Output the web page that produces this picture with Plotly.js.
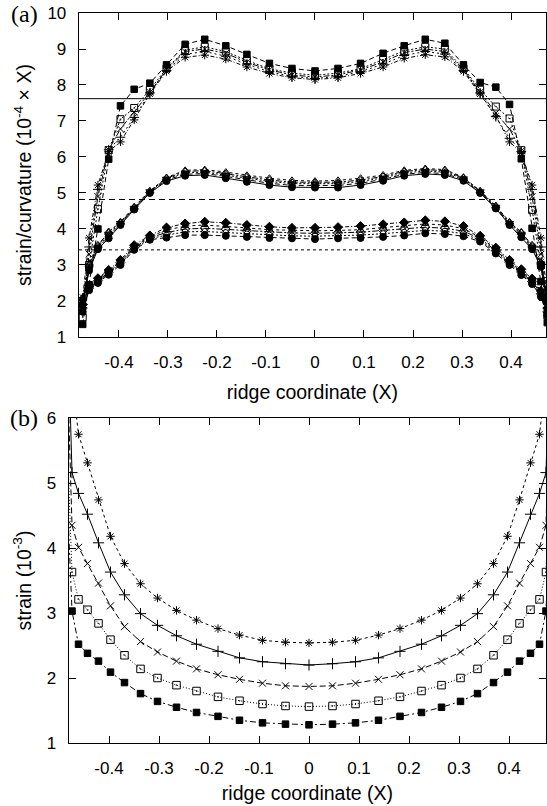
<!DOCTYPE html>
<html>
<head>
<meta charset="utf-8">
<script src="https://cdn.plot.ly/plotly-3.0.1.min.js"></script>
<style>html,body{margin:0;padding:0;background:#fff;}#chart{width:547px;height:806px;}</style>
</head>
<body>
<div id="chart"></div>
<script>
// ---------- DATA ----------
const xTickVals = [-0.4, -0.3, -0.2, -0.1, 0, 0.1, 0.2, 0.3, 0.4];
const xTickText = ["-0.4", "-0.3", "-0.2", "-0.1", "0", "0.1", "0.2", "0.3", "0.4"];
const yTicksA = [1, 2, 3, 4, 5, 6, 7, 8, 9, 10];
const yTicksB = [1, 2, 3, 4, 5, 6];

// ridge nodes (panel a)
const xNodesA = [-0.474, -0.461, -0.443, -0.421, -0.397, -0.369, -0.337, -0.303, -0.265, -0.225, -0.182, -0.139, -0.093, -0.047, 0,
                 0.047, 0.093, 0.139, 0.182, 0.225, 0.265, 0.303, 0.337, 0.369, 0.397, 0.421, 0.443, 0.461, 0.474];
// ridge nodes (panel b) incl. end nodes
const xNodesB = [-0.49, -0.474, -0.461, -0.443, -0.421, -0.397, -0.369, -0.337, -0.303, -0.265, -0.225, -0.182, -0.139, -0.093, -0.047, 0,
                 0.047, 0.093, 0.139, 0.182, 0.225, 0.265, 0.303, 0.337, 0.369, 0.397, 0.421, 0.443, 0.461, 0.474, 0.49];

// panel (a) reference levels
const refLevelsA = [7.62, 4.82, 3.42];

// panel (a) upper group
const aTopSq   = [1.35, 2.45, 4.0, 5.94, 7.42, 7.88, 8.05, 8.56, 9.13, 9.27, 9.09, 8.85, 8.60, 8.46, 8.39, 8.46, 8.60, 8.88, 9.09, 9.27, 9.16, 8.56, 8.07, 7.94, 7.46, 5.95, 4.02, 2.54, 1.4];
const aTopSqO  = [1.55, 3.0, 4.55, 6.19, 7.05, 7.36, 7.87, 8.46, 8.97, 9.06, 8.93, 8.68, 8.45, 8.33, 8.27, 8.33, 8.45, 8.70, 8.95, 9.06, 9.0, 8.46, 7.87, 7.40, 7.07, 6.19, 4.53, 3.0, 1.6];
const aTopX    = [1.7, 3.3, 4.9, 6.2, 6.78, 7.25, 7.8, 8.43, 8.93, 9.0, 8.88, 8.63, 8.42, 8.28, 8.22, 8.28, 8.42, 8.64, 8.9, 9.0, 8.93, 8.43, 7.8, 7.22, 6.78, 6.17, 4.9, 3.3, 1.75];
const aTopPlus = [1.9, 3.5, 5.1, 6.2, 6.55, 7.1, 7.78, 8.4, 8.85, 8.93, 8.8, 8.58, 8.37, 8.24, 8.18, 8.24, 8.37, 8.58, 8.82, 8.93, 8.86, 8.4, 7.78, 7.12, 6.52, 6.15, 5.1, 3.5, 1.95];
const aTopStar = [2.1, 3.75, 5.22, 6.15, 6.42, 7.03, 7.75, 8.38, 8.77, 8.83, 8.72, 8.5, 8.32, 8.2, 8.15, 8.2, 8.32, 8.5, 8.74, 8.84, 8.78, 8.38, 7.75, 7.14, 6.42, 6.12, 5.22, 3.75, 2.15];

// panel (a) middle group
const aMid1 = [1.9, 2.85, 3.44, 3.74, 4.11, 4.54, 5.0, 5.33, 5.48, 5.5, 5.41, 5.31, 5.22, 5.16, 5.15, 5.15, 5.22, 5.34, 5.48, 5.53, 5.5, 5.34, 5.0, 4.57, 4.11, 3.77, 3.44, 2.95, 1.95];
const aMid2 = [1.95, 2.9, 3.47, 3.8, 4.14, 4.56, 5.02, 5.36, 5.52, 5.54, 5.46, 5.36, 5.27, 5.21, 5.2, 5.21, 5.27, 5.38, 5.52, 5.57, 5.54, 5.37, 5.02, 4.59, 4.14, 3.81, 3.47, 2.98, 2.0];
const aMid3 = [2.0, 2.95, 3.5, 3.86, 4.16, 4.58, 5.04, 5.39, 5.56, 5.58, 5.5, 5.4, 5.32, 5.26, 5.25, 5.26, 5.32, 5.42, 5.56, 5.61, 5.58, 5.4, 5.04, 4.61, 4.16, 3.86, 3.5, 3.02, 2.05];
const aMid4 = [2.05, 3.0, 3.53, 3.93, 4.18, 4.6, 5.05, 5.41, 5.6, 5.62, 5.54, 5.45, 5.36, 5.3, 5.29, 5.3, 5.36, 5.46, 5.6, 5.65, 5.62, 5.42, 5.05, 4.63, 4.18, 3.92, 3.53, 3.05, 2.1];
const aMid5 = [2.1, 3.05, 3.56, 3.9, 4.2, 4.62, 5.06, 5.43, 5.63, 5.65, 5.58, 5.49, 5.41, 5.35, 5.33, 5.35, 5.41, 5.5, 5.63, 5.68, 5.65, 5.44, 5.06, 4.65, 4.2, 3.9, 3.56, 3.08, 2.15];

// panel (a) lower group
const aLow1 = [1.7, 2.3, 2.5, 2.73, 3.0, 3.42, 3.7, 3.76, 3.83, 3.83, 3.81, 3.78, 3.75, 3.74, 3.72, 3.74, 3.75, 3.78, 3.82, 3.88, 3.86, 3.8, 3.65, 3.32, 3.0, 2.72, 2.47, 2.12, 1.6];
const aLow2 = [1.75, 2.33, 2.53, 2.77, 3.04, 3.45, 3.73, 3.83, 3.92, 3.93, 3.9, 3.86, 3.83, 3.81, 3.8, 3.81, 3.83, 3.87, 3.91, 3.96, 3.94, 3.87, 3.69, 3.36, 3.04, 2.76, 2.5, 2.16, 1.65];
const aLow3 = [1.8, 2.36, 2.56, 2.8, 3.07, 3.48, 3.76, 3.9, 4.0, 4.02, 3.99, 3.95, 3.91, 3.89, 3.88, 3.89, 3.91, 3.96, 4.0, 4.05, 4.02, 3.94, 3.73, 3.4, 3.07, 2.8, 2.54, 2.2, 1.7];
const aLow4 = [1.85, 2.4, 2.6, 2.83, 3.1, 3.51, 3.79, 3.97, 4.08, 4.11, 4.08, 4.03, 3.98, 3.96, 3.95, 3.96, 3.98, 4.04, 4.09, 4.14, 4.11, 4.01, 3.77, 3.44, 3.1, 2.84, 2.58, 2.24, 1.75];
const aLow5 = [1.9, 2.43, 2.63, 2.86, 3.14, 3.55, 3.82, 4.04, 4.15, 4.2, 4.17, 4.11, 4.06, 4.03, 4.03, 4.05, 4.08, 4.13, 4.18, 4.24, 4.21, 4.08, 3.81, 3.48, 3.14, 2.88, 2.62, 2.28, 1.8];

// panel (b) strain (10^-3)
const bSq   = [6.0, 3.03, 2.52, 2.38, 2.26, 2.09, 1.93, 1.76, 1.64, 1.55, 1.47, 1.41, 1.35, 1.31, 1.29, 1.28, 1.29, 1.31, 1.35, 1.41, 1.47, 1.55, 1.64, 1.76, 1.93, 2.09, 2.26, 2.38, 2.52, 3.03, 6.0];
const bSqO  = [7.0, 3.63, 3.21, 3.05, 2.84, 2.59, 2.35, 2.14, 2.00, 1.89, 1.80, 1.71, 1.65, 1.60, 1.57, 1.56, 1.57, 1.60, 1.65, 1.71, 1.80, 1.89, 2.00, 2.14, 2.35, 2.59, 2.84, 3.05, 3.21, 3.63, 7.0];
const bX    = [8.5, 4.35, 4.01, 3.76, 3.46, 3.11, 2.79, 2.56, 2.40, 2.26, 2.14, 2.05, 1.98, 1.92, 1.88, 1.87, 1.88, 1.92, 1.98, 2.05, 2.14, 2.26, 2.40, 2.56, 2.79, 3.11, 3.46, 3.76, 4.01, 4.35, 8.5];
const bPlus = [9.5, 5.16, 4.84, 4.52, 4.08, 3.63, 3.28, 2.99, 2.81, 2.65, 2.52, 2.41, 2.31, 2.25, 2.22, 2.20, 2.22, 2.25, 2.31, 2.41, 2.52, 2.65, 2.81, 2.99, 3.28, 3.63, 4.08, 4.52, 4.84, 5.16, 9.5];
const bStar = [11.0, 6.6, 5.75, 5.31, 4.74, 4.18, 3.76, 3.45, 3.23, 3.04, 2.89, 2.76, 2.66, 2.58, 2.55, 2.54, 2.55, 2.58, 2.66, 2.76, 2.89, 3.04, 3.23, 3.45, 3.76, 4.18, 4.74, 5.31, 5.75, 6.6, 11.0];

// ---------- TRACES ----------
function tr(x, y, sym, size, dash, axes, lw) {
  return {
    x: x, y: y, type: 'scatter', mode: 'lines+markers',
    xaxis: axes[0], yaxis: axes[1], showlegend: false, hoverinfo: 'skip',
    line: {color: '#000', width: lw || 1, dash: dash},
    marker: {symbol: sym, size: size, color: '#000', line: {color: '#000', width: 1}}
  };
}
const A = ['x', 'y'], B = ['x2', 'y2'];
const traces = [
  tr(xNodesA, aTopSq,   'square', 6.5, '5px,3px', A),
  tr(xNodesA, aTopSqO,  'square-open-dot', 7, '2px,2px', A),
  tr(xNodesA, aTopX,    'x-thin-open', 7, '6px,2px,2px,2px', A),
  tr(xNodesA, aTopPlus, 'cross-thin-open', 7, '2px,3px', A),
  tr(xNodesA, aTopStar, 'asterisk-open', 7, '4px,2px,1px,2px', A),

  tr(xNodesA, aMid1, 'circle', 7, 'solid', A),
  tr(xNodesA, aMid2, 'circle-open', 6, '5px,3px', A),
  tr(xNodesA, aMid3, 'triangle-down-open', 7, '2px,2px', A),
  tr(xNodesA, aMid4, 'triangle-up-open', 7, '6px,2px,2px,2px', A),
  tr(xNodesA, aMid5, 'triangle-up-open', 7, '3px,3px', A),

  tr(xNodesA, aLow1, 'circle', 7, '5px,3px', A),
  tr(xNodesA, aLow2, 'circle-open', 6, '2px,2px', A),
  tr(xNodesA, aLow3, 'diamond-open', 7, '6px,2px,2px,2px', A),
  tr(xNodesA, aLow4, 'triangle-up-open', 6, '3px,3px', A),
  tr(xNodesA, aLow5, 'diamond', 7, '4px,2px,1px,2px', A),

  tr(xNodesB, bSq,   'square', 6.5, '6px,3px,2px,3px', B),
  tr(xNodesB, bSqO,  'square-open-dot', 7.5, '1px,2px', B),
  tr(xNodesB, bX,    'x-thin-open', 7, '6px,3px', B),
  tr(xNodesB, bPlus, 'cross-thin-open', 8, 'solid', B),
  tr(xNodesB, bStar, 'asterisk-open', 7, '3px,3px', B)
];

// ---------- LAYOUT ----------
const FONT = 'Liberation Sans, Arial, Helvetica, sans-serif';
function xax(domain, range, anchor, standoff) {
  return {
    domain: domain, range: range, anchor: anchor,
    tickvals: xTickVals, ticktext: xTickText,
    ticks: 'inside', ticklen: 7, tickwidth: 1, tickcolor: '#000',
    showline: true, linecolor: '#000', linewidth: 1.3, mirror: 'ticks',
    showgrid: false, zeroline: false, ticklabelstandoff: 9,
    tickfont: {family: FONT, size: 17, color: '#000'},
    title: {text: 'ridge coordinate (X)', font: {family: FONT, size: 19.5, color: '#000'}, standoff: standoff}
  };
}
function yax(domain, range, ticks, anchor, title) {
  return {
    domain: domain, range: range, anchor: anchor,
    tickvals: ticks,
    ticks: 'inside', ticklen: 7, tickwidth: 1, tickcolor: '#000',
    showline: true, linecolor: '#000', linewidth: 1.3, mirror: 'ticks',
    showgrid: false, zeroline: false, ticklabelstandoff: 8,
    tickfont: {family: FONT, size: 17, color: '#000'},
    title: {text: title, font: {family: FONT, size: 19.5, color: '#000'}, standoff: 10}
  };
}
const dashes = ['solid', '6px,4px', '3px,3px'];
const layout = {
  width: 547, height: 806,
  margin: {l: 69, r: 1, t: 13, b: 63},
  paper_bgcolor: '#fff', plot_bgcolor: '#fff',
  showlegend: false,
  xaxis: xax([0.02096, 1], [-0.4816, 0.4714], 'y', 14),
  yaxis: yax([0.5562, 1], [1, 10], yTicksA, 'x', 'strain/curvature (10<sup>-4</sup> × X)'),
  xaxis2: xax([0, 1], [-0.48, 0.474], 'y2', 9),
  yaxis2: yax([0, 0.4452], [1, 6], yTicksB, 'x2', 'strain (10<sup>-3</sup>)'),
  shapes: refLevelsA.map((v, i) => ({
    type: 'line', xref: 'x domain', yref: 'y', x0: 0, x1: 1, y0: v, y1: v,
    line: {color: '#000', width: 1, dash: dashes[i]}
  })),
  annotations: [
    {text: '(a)', xref: 'paper', yref: 'paper', x: -0.0608, y: 0.9986, xanchor: 'right', yanchor: 'middle',
     showarrow: false, font: {family: 'Liberation Serif, Times New Roman, serif', size: 24, color: '#000'}},
    {text: '(b)', xref: 'paper', yref: 'paper', x: -0.0608, y: 0.4452, xanchor: 'right', yanchor: 'middle',
     showarrow: false, font: {family: 'Liberation Serif, Times New Roman, serif', size: 24, color: '#000'}}
  ]
};
Plotly.newPlot('chart', traces, layout, {staticPlot: true, displayModeBar: false});
</script>
</body>
</html>
